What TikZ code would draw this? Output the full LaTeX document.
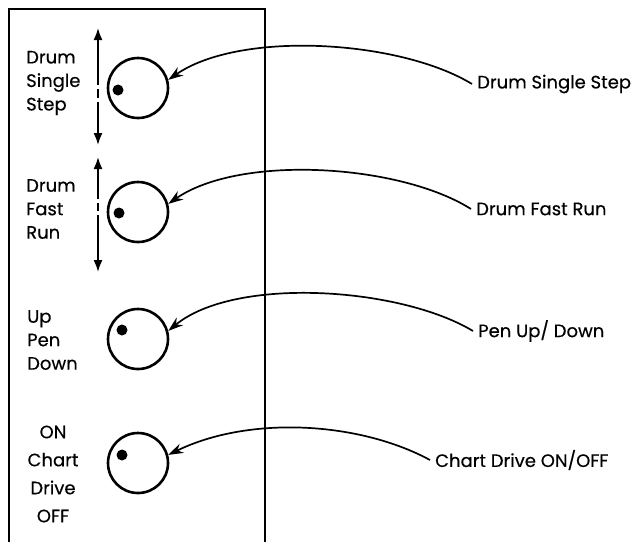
\documentclass[tikz,border=0pt]{standalone}
\usepackage{fontspec}
\setmainfont{Poppins}[FakeBold=0.4]
\usetikzlibrary{arrows.meta,positioning}

\begin{document}
\begin{tikzpicture}[x=1pt, y=-1pt,
    knob/.style={circle, draw, line width=2.6pt, minimum size=60pt, inner sep=0pt},
    dot/.style={circle, fill, minimum size=11pt, inner sep=0pt},
    ctl/.style={font=\fontsize{18}{23.5}\selectfont, align=left, anchor=west, inner sep=0pt},
    callout/.style={font=\fontsize{18}{20}\selectfont, anchor=west, inner sep=5pt},
    lead/.style={line width=1.7pt, -{Stealth[length=15pt, width=10pt]}},
    travel/.style={line width=1.7pt}
]
\useasboundingbox (0,0) rectangle (636,542);
% Front panel (open at the bottom)
\draw[line width=2.6pt] (9,542) -- (9,9) -- (265,9) -- (265,542);

% Knobs with their pointer dots
\foreach \i/\y/\dx/\dy in {1/88/-20/2, 2/212/-19/1, 3/339/-16/-9, 4/463/-16/-8} {
    \node[knob] (k\i) at (138,\y) {};
    \node[dot] (d\i) at ({138+\dx},{\y+\dy}) {};
}

% Panel lettering
\node[ctl] (p1) at (26,83) {Drum\\Single\\Step};
\node[ctl] (p2) at (26,209) {Drum\\Fast\\Run};
\node[ctl] (p3) at (27,340) {Up\\Pen\\Down};
\node[ctl, align=center, anchor=center, font=\fontsize{18}{28}\selectfont] (p4) at (53,474) {ON\\Chart\\Drive\\OFF};

% Travel arrows (broken in the middle)
\foreach \i/\t/\a/\b/\c/\d/\e in {1/28/85/89/98/102/145, 2/157/199/203/211/215/272} {
    \coordinate (t\i) at (98,\t);
    \coordinate (u\i) at (98,\e);
    \draw[travel, -{Latex[length=12pt, width=9pt]}] (98,\a) -- (t\i);
    \draw[travel] (98,\b) -- (98,\c);
    \draw[travel, -{Latex[length=12pt, width=9pt]}] (98,\d) -- (u\i);
}

% Callouts
\node[callout] (c1) at (472,84) {Drum Single Step};
\node[callout] (c2) at (471,209) {Drum Fast Run};
\node[callout] (c3) at (473,331) {Pen Up/ Down};
\node[callout] (c4) at (430,460) {Chart Drive ON/OFF};

\draw[lead] (c1.west) .. controls (400,40) and (240,30) .. (k1.15);
\draw[lead] (c2.west) .. controls (400,164) and (240,154) .. (k2.15);
\draw[lead] (c3.west) .. controls (400,287) and (235,276) .. (k3.15);
\draw[lead] (c4.west) .. controls (360,422) and (250,415) .. (k4.15);

\end{tikzpicture}
\end{document}
